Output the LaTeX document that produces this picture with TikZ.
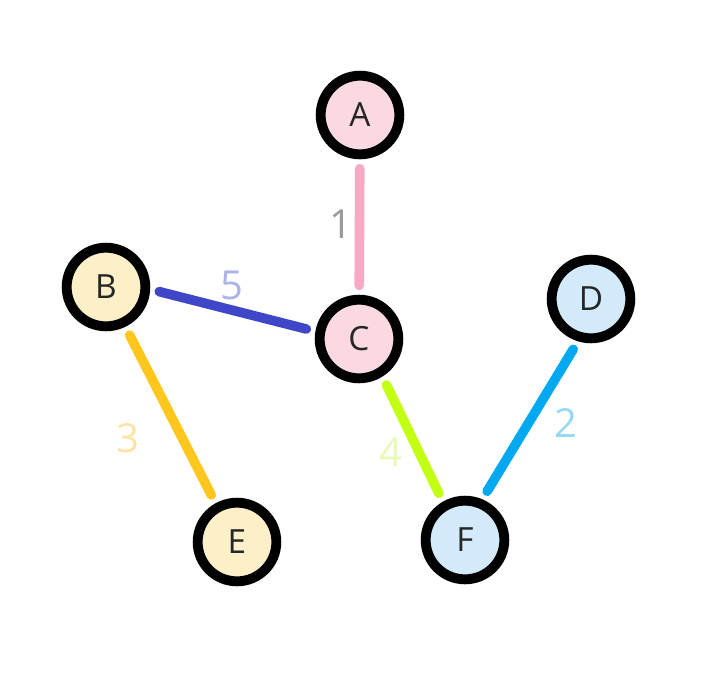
\documentclass[tikz,border=0pt]{standalone}
\usepackage{fontspec}
\setmainfont{Open Sans}
\definecolor{pinkfill}{HTML}{FBD9E3}
\definecolor{yellowfill}{HTML}{FDEFC8}
\definecolor{bluefill}{HTML}{D2EAF9}
\definecolor{ePink}{HTML}{F8AAC4}
\definecolor{eBlue}{HTML}{4046C8}
\definecolor{eYellow}{HTML}{FFC61E}
\definecolor{eGreen}{HTML}{C2FF12}
\definecolor{eSky}{HTML}{02A8F0}
\definecolor{lGray}{HTML}{9A9A9A}
\definecolor{lBlue}{HTML}{AEB2E8}
\definecolor{lYellow}{HTML}{FEE3A4}
\definecolor{lGreen}{HTML}{E8FAB8}
\definecolor{lSky}{HTML}{96D8F8}
\tikzset{
  vert/.style={circle, draw=black, line width=7.4pt, minimum size=59pt, inner sep=0pt,
    font=\fontsize{25}{28}\selectfont, text=black!85},
  link/.style={line width=7.2pt, line cap=round, shorten >=7pt, shorten <=7pt},
  wlabel/.style={font=\fontsize{30}{32}\selectfont, inner sep=0pt}
}
\begin{document}
\begin{tikzpicture}[x=0.75pt,y=-0.75pt]
\useasboundingbox (0,0) rectangle (715,679);
\node[vert, fill=pinkfill] (A) at (360,115) {A};
\node[vert, fill=pinkfill] (C) at (359,339) {C};
\node[vert, fill=yellowfill] (B) at (106,287) {B};
\node[vert, fill=bluefill] (D) at (591,299) {D};
\node[vert, fill=yellowfill] (E) at (237,542) {E};
\node[vert, fill=bluefill] (F) at (465,540) {F};
\draw[link, ePink] (A) -- (C);
\draw[link, eBlue] (B.-3) -- (C.170);
\draw[link, eYellow] (B.-64) -- (E.119);
\draw[link, eGreen] (C.-58) -- (F.120);
\draw[link, eSky] (D.-107) -- (F.67);
\node[wlabel, text=lGray] (l1) at (341,224) {1};
\node[wlabel, text=lBlue] (l5) at (232,285) {5};
\node[wlabel, text=lYellow] (l3) at (128,438) {3};
\node[wlabel, text=lGreen] (l4) at (391,452) {4};
\node[wlabel, text=lSky] (l2) at (566,423) {2};
\end{tikzpicture}
\end{document}
